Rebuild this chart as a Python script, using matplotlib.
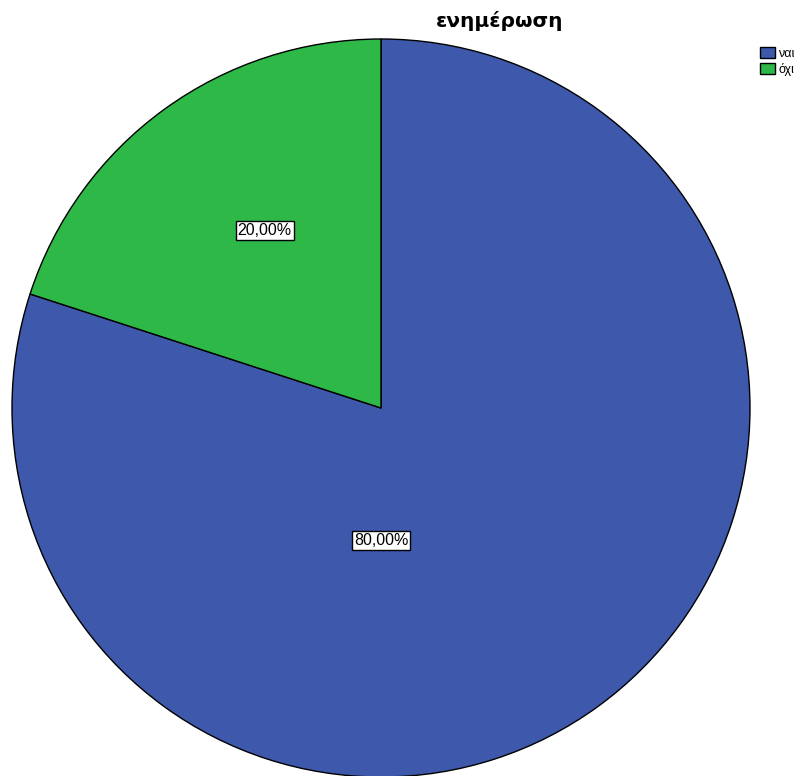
import numpy as np
import matplotlib.pyplot as plt

# Δεδομένα
categories = ["ναι", "όχι"]
values = [80.0, 20.0]
colors = ["#3E58AC", "#2EB848"]
title = "ενημέρωση"

fig = plt.figure(figsize=(8.03, 7.76), dpi=100)
W, H = 803, 776
cx, cy, r = 381, 408, 369
ax = fig.add_axes([(cx - r) / W, (H - cy - r) / H, 2 * r / W, 2 * r / H])

wedges, texts, autotexts = ax.pie(
    values, colors=colors, startangle=90, counterclock=False,
    autopct=lambda p: f"{p:.2f}%".replace(".", ","), pctdistance=0.58,
    wedgeprops=dict(edgecolor="black", linewidth=1.0),
    textprops=dict(fontsize=11.5, color="black", family="Liberation Sans"),
)
ax.set_aspect("equal")
ax.set_xlim(-1.0, 1.0)
ax.set_ylim(-1.0, 1.0)

# Θέσεις ετικετών όπως στο SPSS
autotexts[0].set_position((0, -0.36))
autotexts[1].set_position((-0.315, 0.48))
for t in autotexts:
    t.set_bbox(dict(facecolor="white", edgecolor="black", linewidth=1.0, pad=1.5))

fig.text(500 / W, 1 - 21 / H, title, ha="center", va="center",
         fontsize=14.5, fontweight="bold")

fig.legend(wedges, categories, loc="upper left", bbox_to_anchor=(751 / W, 1 - 38 / H),
           frameon=False, prop=dict(family="Liberation Sans", size=9),
           handlelength=1.2, handleheight=1.0,
           handletextpad=0.3, labelspacing=0.25, borderpad=0.2)

fig.savefig("out.png", dpi=100)
